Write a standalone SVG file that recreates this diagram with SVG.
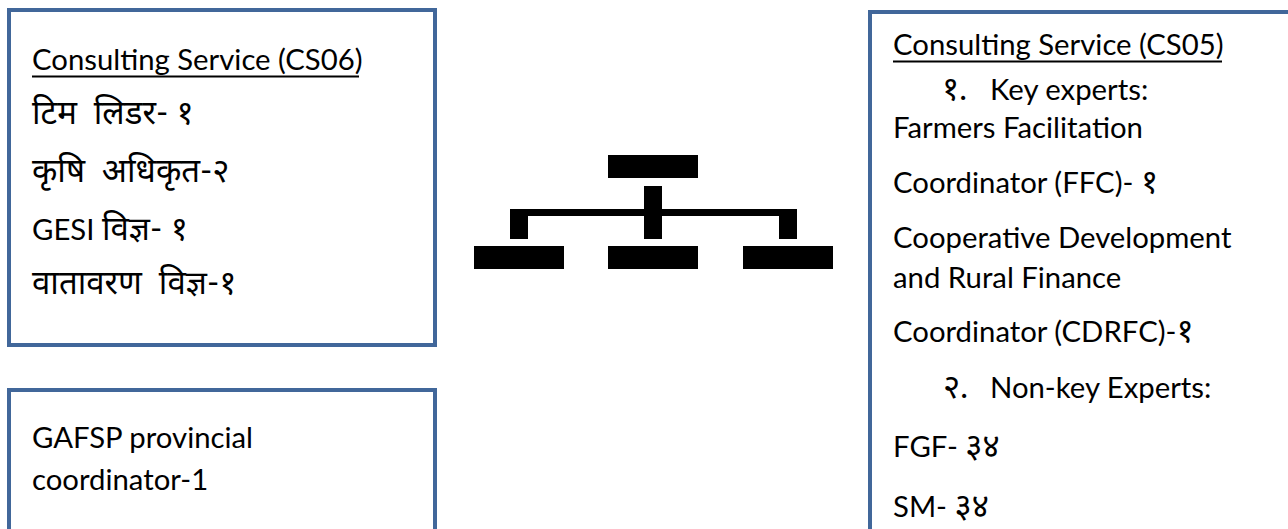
<svg xmlns="http://www.w3.org/2000/svg" width="1288" height="529" viewBox="0 0 1288 529">
<style>
.box{fill:#ffffff;stroke:#41679a;stroke-width:4}
.t{font-family:Lato,"Noto Sans","Noto Sans Devanagari",sans-serif;font-size:29.3px;fill:#000;white-space:pre}
.d{font-size:33px}
.u{stroke:#000;stroke-width:2}
.icon{fill:#000}
</style>
<rect width="1288" height="529" fill="#ffffff"/>
<g id="cs06">
<rect class="box" x="9" y="10" width="426" height="335"/>
<text class="t" x="32" y="70">Consulting Service (CS06)</text>
<line class="u" x1="32" y1="76.5" x2="359" y2="76.5"/>
<text class="t d" x="32" y="124">टिम  लिडर- १</text>
<text class="t d" x="32" y="182">कृषि  अधिकृत-२</text>
<text class="t" x="32" y="240">GESI <tspan class="d">विज्ञ- १</tspan></text>
<text class="t d" x="32" y="294">वातावरण  विज्ञ-१</text>
</g>
<g id="gafsp">
<rect class="box" x="9" y="390" width="426" height="160"/>
<text class="t" x="32" y="448">GAFSP provincial</text>
<text class="t" x="32" y="490">coordinator-1</text>
</g>
<g id="cs05">
<rect class="box" x="870" y="12" width="440" height="540"/>
<text class="t" x="893" y="55">Consulting Service (CS05)</text>
<line class="u" x1="893" y1="61.5" x2="1222" y2="61.5"/>
<text class="t d" x="942" y="100">१.</text>
<text class="t" x="990" y="100">Key experts:</text>
<text class="t" x="893" y="138">Farmers Facilitation</text>
<text class="t" x="893" y="193">Coordinator (FFC)- <tspan class="d">१</tspan></text>
<text class="t" x="893" y="248">Cooperative Development</text>
<text class="t" x="893" y="288">and Rural Finance</text>
<text class="t" x="893" y="342">Coordinator (CDRFC)-<tspan class="d">१</tspan></text>
<text class="t d" x="943" y="398">२.</text>
<text class="t" x="990" y="398">Non-key Experts:</text>
<text class="t" x="893" y="457">FGF- <tspan class="d">३४</tspan></text>
<text class="t" x="893" y="517">SM- <tspan class="d">३४</tspan></text>
</g>
<g id="org-icon" class="icon">
<rect x="608" y="155" width="90" height="23"/>
<rect x="644" y="186" width="18" height="53"/>
<rect x="510" y="209" width="287" height="7"/>
<rect x="510" y="209" width="18" height="30"/>
<rect x="779" y="209" width="18" height="30"/>
<rect x="474" y="246" width="90" height="23"/>
<rect x="608" y="246" width="90" height="23"/>
<rect x="743" y="246" width="90" height="23"/>
</g>
<g id="connectors"></g>
</svg>
